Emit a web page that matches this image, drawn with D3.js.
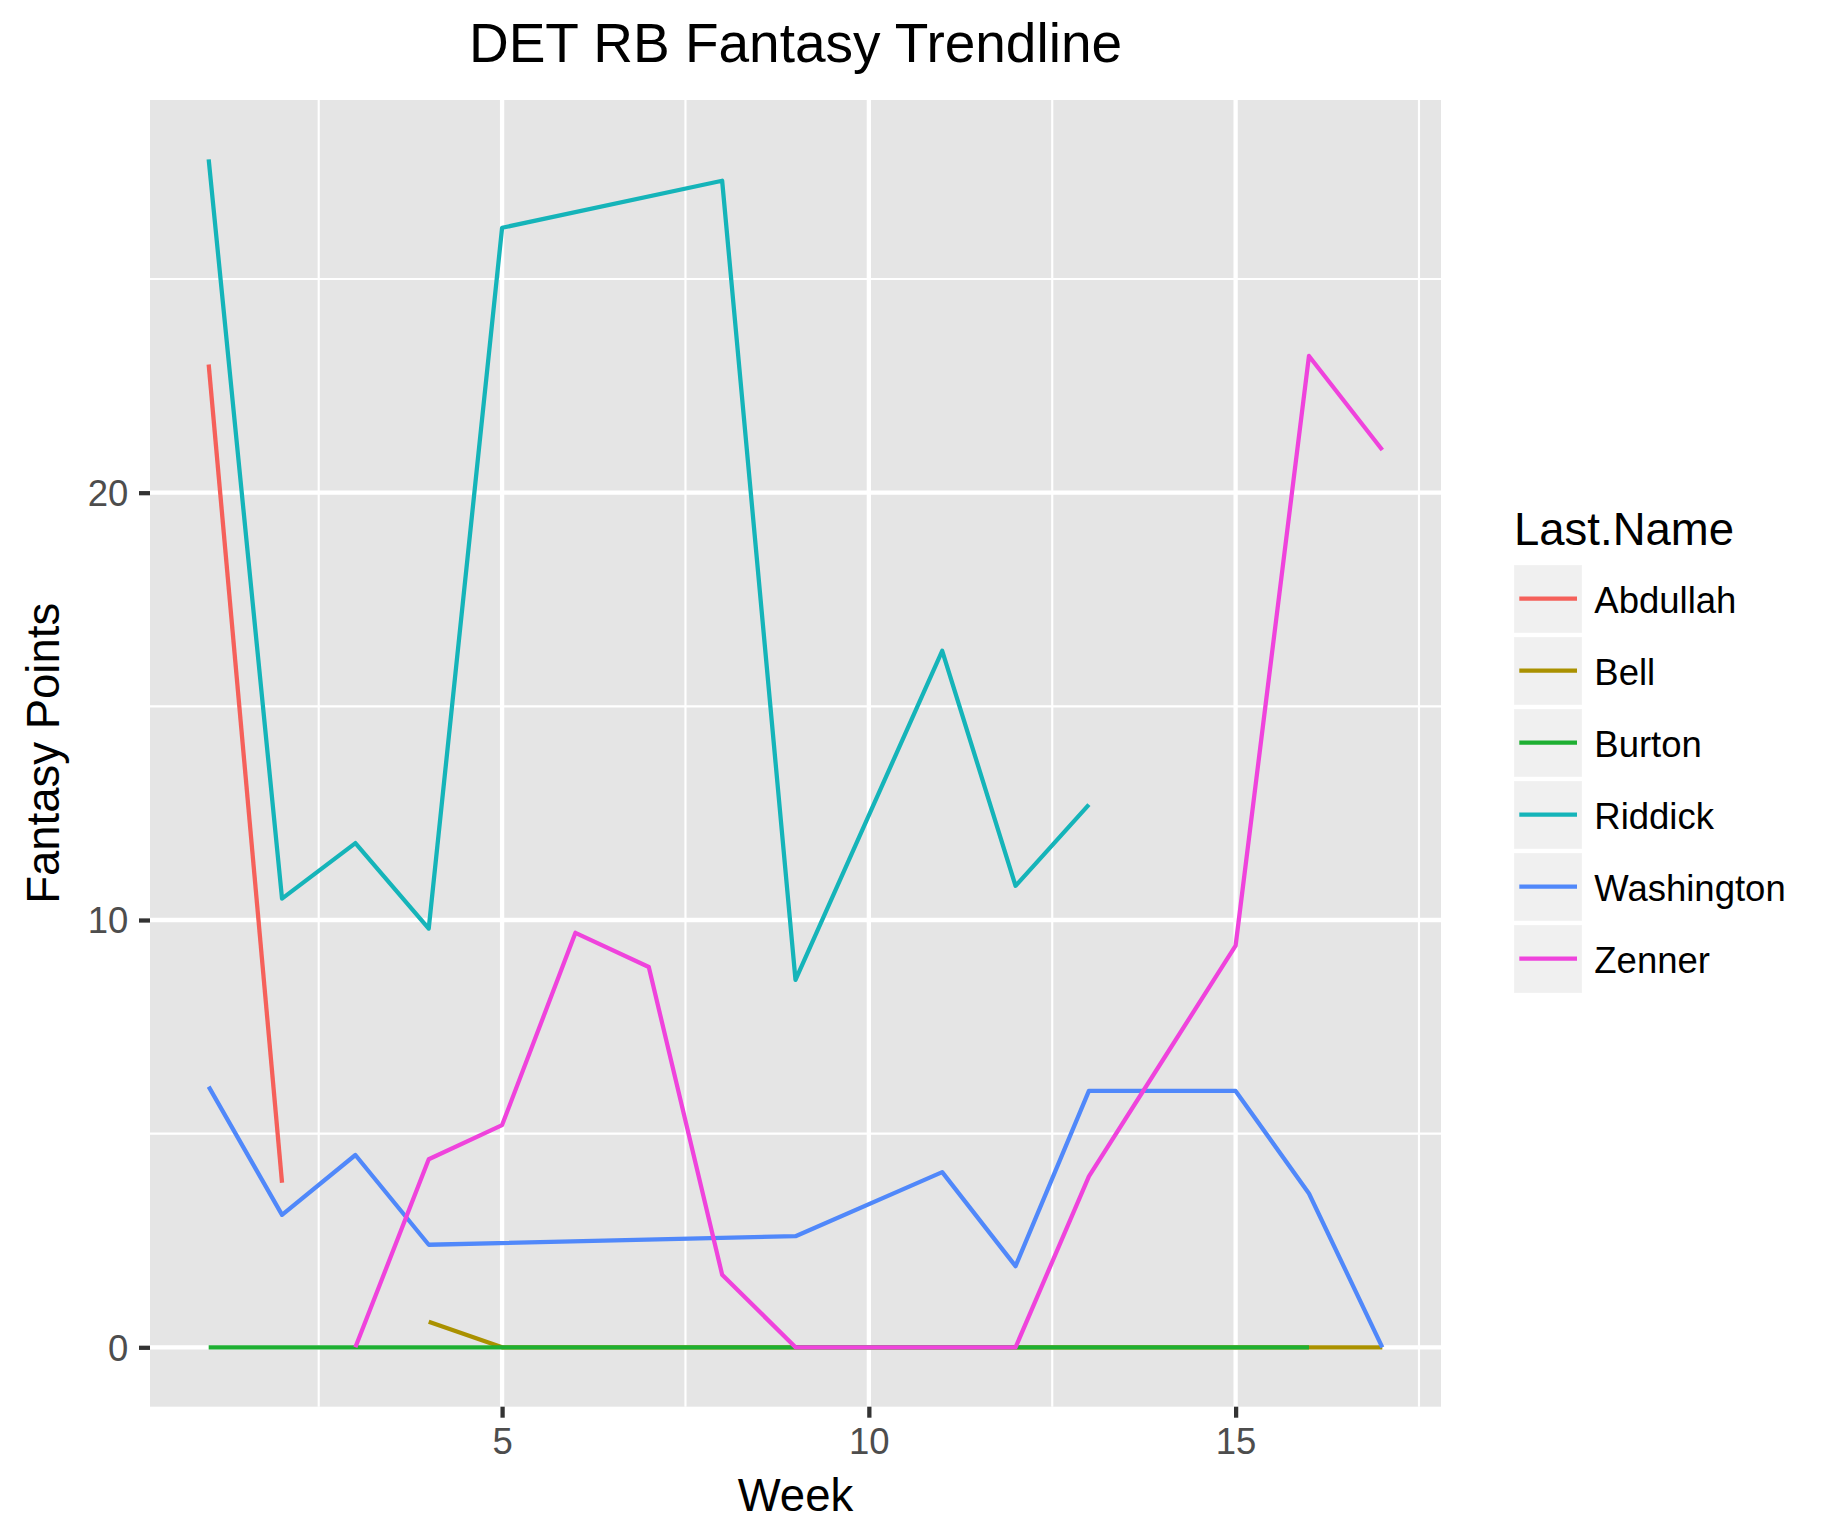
<!DOCTYPE html>
<html>
<head>
<meta charset="utf-8">
<script src="https://cdn.jsdelivr.net/npm/d3@7"></script>
<style>
  body { margin: 0; background: #fff; }
  text { font-family: "Liberation Sans", Arial, Helvetica, sans-serif; }
</style>
</head>
<body>
<div id="canvas"></div>
<script>
// data
const players = ["Abdullah", "Bell", "Burton", "Riddick", "Washington", "Zenner"];
const colors = ["#F5605A", "#AA9100", "#1EAF32", "#15B4B9", "#5088FA", "#EF43DC"];

const abdullahWeeks = [1, 2];
const abdullahPts = [23.0, 3.85];

const bellWeeks = [4, 5, 6, 7, 8, 9, 10, 11, 12, 13, 14, 15, 16, 17];
const bellPts = [0.6, 0, 0, 0, 0, 0, 0, 0, 0, 0, 0, 0, 0, 0];

const burtonWeeks = [1, 2, 3, 4, 5, 6, 7, 8, 9, 10, 11, 12, 13, 14, 15, 16];
const burtonPts = [0, 0, 0, 0, 0, 0, 0, 0, 0, 0, 0, 0, 0, 0, 0, 0];

const riddickWeeks = [1, 2, 3, 4, 5, 8, 9, 11, 12, 13];
const riddickPts = [27.8, 10.5, 11.8, 9.8, 26.2, 27.3, 8.6, 16.3, 10.8, 12.7];

const washingtonWeeks = [1, 2, 3, 4, 9, 11, 12, 13, 14, 15, 16, 17];
const washingtonPts = [6.1, 3.1, 4.5, 2.4, 2.6, 4.1, 1.9, 6.0, 6.0, 6.0, 3.6, 0];

const zennerWeeks = [3, 4, 5, 6, 7, 8, 9, 10, 11, 12, 13, 14, 15, 16, 17];
const zennerPts = [0, 4.4, 5.2, 9.7, 8.9, 1.7, 0, 0, 0, 0, 4.0, 6.7, 9.4, 23.2, 21.0];

const xTicks = [5, 10, 15];
const xMinor = [2.5, 7.5, 12.5, 17.5];
const yTicks = [0, 10, 20];
const yMinor = [5, 15, 25];

const weeksList = [abdullahWeeks, bellWeeks, burtonWeeks, riddickWeeks, washingtonWeeks, zennerWeeks];
const ptsList = [abdullahPts, bellPts, burtonPts, riddickPts, washingtonPts, zennerPts];

const series = players.map((name, i) => ({
  name: name,
  color: colors[i],
  values: weeksList[i].map((w, j) => ({ week: w, pts: ptsList[i][j] }))
}));

const width = 1833, height = 1533;
const panel = { left: 150, right: 1441, top: 100, bottom: 1406.7 };
const lw = 4.27;
const font = "\"Liberation Sans\", Arial, Helvetica, sans-serif";

const svg = d3.select("#canvas").append("svg")
  .attr("width", width)
  .attr("height", height);

const allWeeks = [].concat(...weeksList);
const allPts = [].concat(...ptsList);
const xExt = d3.extent(allWeeks), yExt = d3.extent(allPts);
const xPad = (xExt[1] - xExt[0]) * 0.05, yPad = (yExt[1] - yExt[0]) * 0.05;

const x = d3.scaleLinear()
  .domain([xExt[0] - xPad, xExt[1] + xPad])
  .range([panel.left, panel.right]);

const y = d3.scaleLinear()
  .domain([yExt[0] - yPad, yExt[1] + yPad])
  .range([panel.bottom, panel.top]);

// panel background
svg.append("rect")
  .attr("x", panel.left).attr("y", panel.top)
  .attr("width", panel.right - panel.left)
  .attr("height", panel.bottom - panel.top)
  .attr("fill", "#E5E5E5");

const grid = svg.append("g");
grid.selectAll(".xminor").data(xMinor).enter().append("line")
  .attr("x1", d => x(d)).attr("x2", d => x(d))
  .attr("y1", panel.top).attr("y2", panel.bottom)
  .attr("stroke", "#fff").attr("stroke-width", lw / 2);
grid.selectAll(".yminor").data(yMinor).enter().append("line")
  .attr("y1", d => y(d)).attr("y2", d => y(d))
  .attr("x1", panel.left).attr("x2", panel.right)
  .attr("stroke", "#fff").attr("stroke-width", lw / 2);
grid.selectAll(".xmajor").data(xTicks).enter().append("line")
  .attr("x1", d => x(d)).attr("x2", d => x(d))
  .attr("y1", panel.top).attr("y2", panel.bottom)
  .attr("stroke", "#fff").attr("stroke-width", lw);
grid.selectAll(".ymajor").data(yTicks).enter().append("line")
  .attr("y1", d => y(d)).attr("y2", d => y(d))
  .attr("x1", panel.left).attr("x2", panel.right)
  .attr("stroke", "#fff").attr("stroke-width", lw);

// lines
const line = d3.line()
  .x(d => x(d.week))
  .y(d => y(d.pts));

svg.append("g").selectAll("path").data(series).enter().append("path")
  .attr("d", d => line(d.values))
  .attr("fill", "none")
  .attr("stroke", d => d.color)
  .attr("stroke-width", lw)
  .attr("stroke-linejoin", "round")
  .attr("stroke-linecap", "butt");

// axes
const xAxis = svg.append("g")
  .attr("transform", `translate(0,${panel.bottom})`)
  .call(d3.axisBottom(x).tickValues(xTicks).tickSize(11).tickPadding(10.5).tickFormat(d3.format("d")));

const yAxis = svg.append("g")
  .attr("transform", `translate(${panel.left},0)`)
  .call(d3.axisLeft(y).tickValues(yTicks).tickSize(11).tickPadding(10.7).tickFormat(d3.format("d")));

[xAxis, yAxis].forEach(a => {
  a.select(".domain").remove();
  a.selectAll(".tick line").attr("stroke", "#333333").attr("stroke-width", lw);
  a.selectAll(".tick text")
    .attr("fill", "#4D4D4D")
    .style("font-size", "36.5px")
    .style("font-family", font);
});
yAxis.selectAll(".tick text").attr("dy", "0.35em");

// titles
svg.append("text")
  .attr("x", (panel.left + panel.right) / 2).attr("y", 62)
  .attr("text-anchor", "middle")
  .style("font-size", "55px")
  .text("DET RB Fantasy Trendline");

svg.append("text")
  .attr("x", (panel.left + panel.right) / 2).attr("y", 1511)
  .attr("text-anchor", "middle")
  .style("font-size", "45.5px")
  .text("Week");

svg.append("text")
  .attr("transform", `translate(59,${(panel.top + panel.bottom) / 2}) rotate(-90)`)
  .attr("text-anchor", "middle")
  .style("font-size", "45.5px")
  .text("Fantasy Points");

// legend
const legend = svg.append("g");
legend.append("text")
  .attr("x", 1514).attr("y", 545)
  .style("font-size", "45.5px")
  .text("Last.Name");

const keys = legend.selectAll(".key").data(series).enter().append("g")
  .attr("transform", (d, i) => `translate(1512,${563 + i * 72})`);

keys.append("rect")
  .attr("width", 72).attr("height", 72)
  .attr("fill", "#F0F0F0")
  .attr("stroke", "#fff").attr("stroke-width", lw);

keys.append("line")
  .attr("x1", 7.3).attr("x2", 65)
  .attr("y1", 35.7).attr("y2", 35.7)
  .attr("stroke", d => d.color)
  .attr("stroke-width", lw);

keys.append("text")
  .attr("x", 82.3).attr("y", 49.7)
  .style("font-size", "36.5px")
  .text(d => d.name);
</script>
</body>
</html>
